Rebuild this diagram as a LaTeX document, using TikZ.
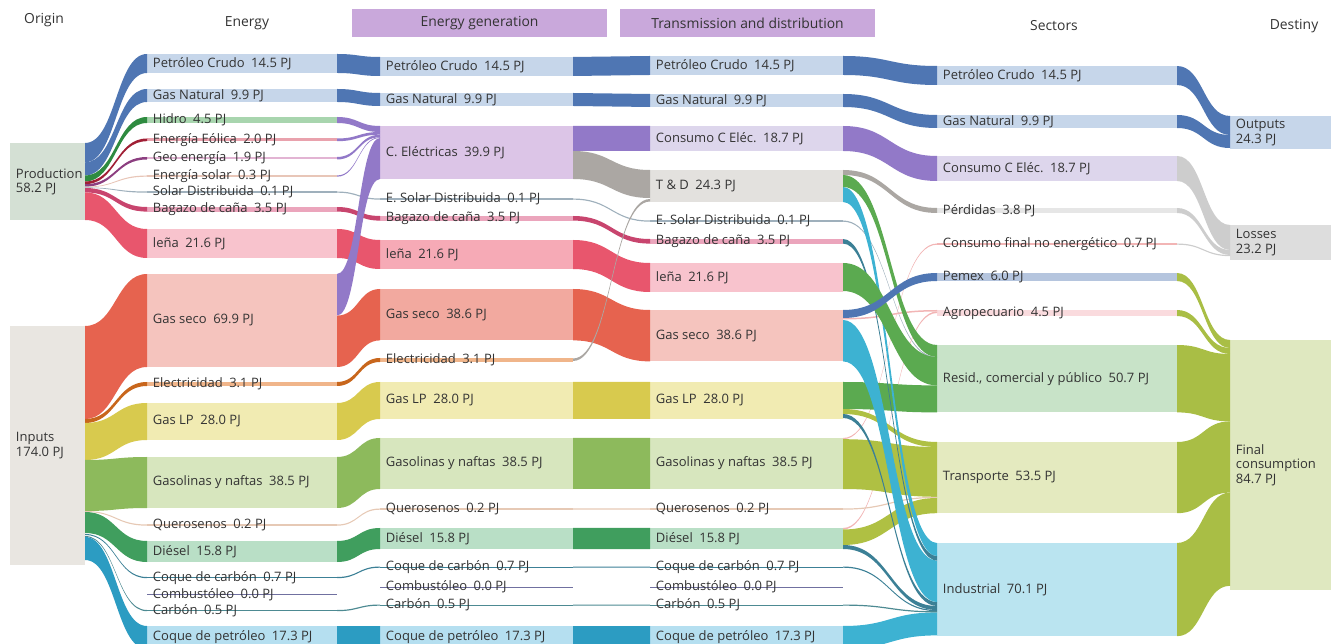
\documentclass[tikz,border=0pt]{standalone}
\usepackage{fontspec}
\setmainfont{Open Sans}
\usepackage{xcolor}

% colours: ...f = flow, ...b = bar
\definecolor{txt}{HTML}{333333}
\definecolor{hdr}{HTML}{C9A8DB}
\definecolor{bluef}{HTML}{4F76B3}
\definecolor{blueb}{HTML}{C6D6EA}
\definecolor{hidf}{HTML}{2E8B40}
\definecolor{hidb}{HTML}{A8D5AE}
\definecolor{eolf}{HTML}{A01F35}
\definecolor{eolb}{HTML}{E9A2AD}
\definecolor{geof}{HTML}{8C3F80}
\definecolor{geob}{HTML}{E2B4D3}
\definecolor{solf}{HTML}{E8C6B8}
\definecolor{sdf}{HTML}{9FB0BC}
\definecolor{bagf}{HTML}{C8456E}
\definecolor{bagb}{HTML}{EBA5BC}
\definecolor{lenf}{HTML}{E8566D}
\definecolor{lenb}{HTML}{F8C3CD}
\definecolor{lenb2}{HTML}{F6AAB6}
\definecolor{gsf}{HTML}{E6634F}
\definecolor{gsb}{HTML}{F5C4BE}
\definecolor{gsb2}{HTML}{F2A99F}
\definecolor{elef}{HTML}{C8661C}
\definecolor{eleb}{HTML}{F0B58A}
\definecolor{lpf}{HTML}{D8CA4E}
\definecolor{lpb}{HTML}{F1EBB2}
\definecolor{gasf}{HTML}{8DBA5C}
\definecolor{gasb}{HTML}{D7E6BE}
\definecolor{quef}{HTML}{E6C9B5}
\definecolor{dief}{HTML}{409E5E}
\definecolor{dieb}{HTML}{B9DFC6}
\definecolor{ccf}{HTML}{3C8096}
\definecolor{cmbf}{HTML}{7070A0}
\definecolor{carf}{HTML}{4D8A92}
\definecolor{cpf}{HTML}{2C9CC2}
\definecolor{cpb}{HTML}{B5DFF0}
\definecolor{cef}{HTML}{9279C8}
\definecolor{ceb}{HTML}{DCC5E7}
\definecolor{tdf}{HTML}{ABA7A3}
\definecolor{tdb}{HTML}{E3E1DE}
\definecolor{cceb}{HTML}{DDD6EC}
\definecolor{perb}{HTML}{E6E6E6}
\definecolor{resf}{HTML}{5BAA50}
\definecolor{resb}{HTML}{C8E3C8}
\definecolor{traf}{HTML}{AFC043}
\definecolor{trab}{HTML}{E4EABF}
\definecolor{indf}{HTML}{3DB2D2}
\definecolor{indb}{HTML}{BAE4F0}
\definecolor{pemb}{HTML}{B5C5DE}
\definecolor{agrb}{HTML}{FADBDE}
\definecolor{agrf}{HTML}{F2B5B5}
\definecolor{finf}{HTML}{A9BE45}
\definecolor{finb}{HTML}{DFE8C0}
\definecolor{losf}{HTML}{CDCDCD}
\definecolor{losb}{HTML}{DDDDDD}
\definecolor{prob}{HTML}{D4E0D4}
\definecolor{inpb}{HTML}{E9E6E1}

\tikzset{
  stock/.style={rectangle, inner sep=0pt, outer sep=0pt, anchor=north west},
  lbl/.style={anchor=west, inner xsep=3.2pt, inner ysep=0pt, align=left,
    text=txt, font=\fontsize{7.4}{8.2}\selectfont},
  head/.style={text=txt, font=\fontsize{7.9}{9}\selectfont},
  headbox/.style={head, fill=hdr, minimum width=255*0.02cm, minimum height=28*0.02cm}
}

% bar: name, x, top, width, height, colour, text
\newcommand\stk[7]{\node[stock, fill=#6, minimum width=#4*0.02cm,
  minimum height=#5*0.02cm, label={[lbl]west:#7}] (#1) at (#2,#3) {};}
% band: from node, top, bottom, to node, top, bottom, colour
\newcommand\flow[7]{\fill[#7] (#1.east |- 0,#2) .. controls +(\arm,0) and +(-\arm,0) .. (#4.west |- 0,#5)
  -- (#4.west |- 0,#6) .. controls +(-\arm,0) and +(\arm,0) .. (#1.east |- 0,#3) -- cycle;}

\begin{document}
\begin{tikzpicture}[x=0.02cm, y=-0.02cm]
  \useasboundingbox (0,0) rectangle (1331,644);
  \clip (0,0) rectangle (1331,644);

  % headers
  \node[head] (hOri) at (44,20) {Origin};
  \node[head] (hEne) at (247,23) {Energy};
  \node[headbox] (hGen) at (479.5,23) {Energy generation};
  \node[headbox] (hTD) at (747.5,23) {Transmission and distribution};
  \node[head] (hSec) at (1054,26) {Sectors};
  \node[head] (hDes) at (1294,26) {Destiny};

  % origin
  \stk{prod}{10}{143}{75}{77}{prob}{Production\\58.2 PJ}
  \stk{inp}{10}{326}{75}{239}{inpb}{Inputs\\174.0 PJ}

  % energy
  \def\cx{147}\def\cw{190}
  \stk{ePC}{\cx}{54}{\cw}{19}{blueb}{Petróleo Crudo\enspace 14.5 PJ}
  \stk{eGN}{\cx}{89}{\cw}{13}{blueb}{Gas Natural\enspace 9.9 PJ}
  \stk{eHid}{\cx}{117}{\cw}{6}{hidb}{Hidro\enspace 4.5 PJ}
  \stk{eEol}{\cx}{138.5}{\cw}{2.7}{eolb}{Energía Eólica\enspace 2.0 PJ}
  \stk{eGeo}{\cx}{157}{\cw}{2.5}{geob}{Geo energía\enspace 1.9 PJ}
  \stk{eSol}{\cx}{175.5}{\cw}{1.2}{solf}{Energía solar\enspace 0.3 PJ}
  \stk{eSD}{\cx}{191.5}{\cw}{1.2}{sdf}{Solar Distribuida\enspace 0.1 PJ}
  \stk{eBag}{\cx}{207}{\cw}{4.6}{bagb}{Bagazo de caña\enspace 3.5 PJ}
  \stk{eLen}{\cx}{229}{\cw}{29}{lenb}{leña\enspace 21.6 PJ}
  \stk{eGS}{\cx}{274}{\cw}{93}{gsb}{Gas seco\enspace 69.9 PJ}
  \stk{eEle}{\cx}{382}{\cw}{4}{eleb}{Electricidad\enspace 3.1 PJ}
  \stk{eGLP}{\cx}{403}{\cw}{37}{lpb}{Gas LP\enspace 28.0 PJ}
  \stk{eGas}{\cx}{457}{\cw}{51}{gasb}{Gasolinas y naftas\enspace 38.5 PJ}
  \stk{eQue}{\cx}{524.5}{\cw}{1.2}{quef}{Querosenos\enspace 0.2 PJ}
  \stk{eDie}{\cx}{541}{\cw}{21}{dieb}{Diésel\enspace 15.8 PJ}
  \stk{eCC}{\cx}{577}{\cw}{1.2}{ccf}{Coque de carbón\enspace 0.7 PJ}
  \stk{eCmb}{\cx}{594}{\cw}{1}{cmbf}{Combustóleo\enspace 0.0 PJ}
  \stk{eCar}{\cx}{610}{\cw}{1.2}{carf}{Carbón\enspace 0.5 PJ}
  \stk{eCP}{\cx}{626}{\cw}{23}{cpb}{Coque de petróleo\enspace 17.3 PJ}

  % energy generation
  \def\cx{380}\def\cw{193}
  \stk{gPC}{\cx}{57}{\cw}{19}{blueb}{Petróleo Crudo\enspace 14.5 PJ}
  \stk{gGN}{\cx}{93}{\cw}{13}{blueb}{Gas Natural\enspace 9.9 PJ}
  \stk{gCE}{\cx}{126}{\cw}{53}{ceb}{C. Eléctricas\enspace 39.9 PJ}
  \stk{gSD}{\cx}{198.5}{\cw}{1.2}{sdf}{E. Solar Distribuida\enspace 0.1 PJ}
  \stk{gBag}{\cx}{216}{\cw}{4.6}{bagb}{Bagazo de caña\enspace 3.5 PJ}
  \stk{gLen}{\cx}{240}{\cw}{29}{lenb2}{leña\enspace 21.6 PJ}
  \stk{gGS}{\cx}{289}{\cw}{51.4}{gsb2}{Gas seco\enspace 38.6 PJ}
  \stk{gEle}{\cx}{358}{\cw}{4}{eleb}{Electricidad\enspace 3.1 PJ}
  \stk{gGLP}{\cx}{382}{\cw}{37}{lpb}{Gas LP\enspace 28.0 PJ}
  \stk{gGas}{\cx}{438}{\cw}{51}{gasb}{Gasolinas y naftas\enspace 38.5 PJ}
  \stk{gQue}{\cx}{508.5}{\cw}{1.2}{quef}{Querosenos\enspace 0.2 PJ}
  \stk{gDie}{\cx}{528}{\cw}{21}{dieb}{Diésel\enspace 15.8 PJ}
  \stk{gCC}{\cx}{566.5}{\cw}{1.2}{ccf}{Coque de carbón\enspace 0.7 PJ}
  \stk{gCmb}{\cx}{586.5}{\cw}{1}{cmbf}{Combustóleo\enspace 0.0 PJ}
  \stk{gCar}{\cx}{604.5}{\cw}{1.2}{carf}{Carbón\enspace 0.5 PJ}
  \stk{gCP}{\cx}{626}{\cw}{23}{cpb}{Coque de petróleo\enspace 17.3 PJ}

  % transmission and distribution
  \def\cx{650}\def\cw{193}
  \stk{tPC}{\cx}{56}{\cw}{19}{blueb}{Petróleo Crudo\enspace 14.5 PJ}
  \stk{tGN}{\cx}{94}{\cw}{13}{blueb}{Gas Natural\enspace 9.9 PJ}
  \stk{tCCE}{\cx}{126}{\cw}{25}{cceb}{Consumo C Eléc.\enspace 18.7 PJ}
  \stk{tTD}{\cx}{170}{\cw}{32}{tdb}{T \& D\enspace 24.3 PJ}
  \stk{tSD}{\cx}{220.5}{\cw}{1.2}{sdf}{E. Solar Distribuida\enspace 0.1 PJ}
  \stk{tBag}{\cx}{239}{\cw}{4.6}{bagb}{Bagazo de caña\enspace 3.5 PJ}
  \stk{tLen}{\cx}{263}{\cw}{29}{lenb}{leña\enspace 21.6 PJ}
  \stk{tGS}{\cx}{310}{\cw}{51.4}{gsb}{Gas seco\enspace 38.6 PJ}
  \stk{tGLP}{\cx}{382}{\cw}{37}{lpb}{Gas LP\enspace 28.0 PJ}
  \stk{tGas}{\cx}{438}{\cw}{51}{gasb}{Gasolinas y naftas\enspace 38.5 PJ}
  \stk{tQue}{\cx}{508.5}{\cw}{1.2}{quef}{Querosenos\enspace 0.2 PJ}
  \stk{tDie}{\cx}{528}{\cw}{21}{dieb}{Diésel\enspace 15.8 PJ}
  \stk{tCC}{\cx}{566.5}{\cw}{1.2}{ccf}{Coque de carbón\enspace 0.7 PJ}
  \stk{tCmb}{\cx}{586.5}{\cw}{1}{cmbf}{Combustóleo\enspace 0.0 PJ}
  \stk{tCar}{\cx}{604.5}{\cw}{1.2}{carf}{Carbón\enspace 0.5 PJ}
  \stk{tCP}{\cx}{626}{\cw}{23}{cpb}{Coque de petróleo\enspace 17.3 PJ}

  % sectors
  \def\cx{937}\def\cw{240}
  \stk{sPC}{\cx}{66}{\cw}{19}{blueb}{Petróleo Crudo\enspace 14.5 PJ}
  \stk{sGN}{\cx}{115}{\cw}{13}{blueb}{Gas Natural\enspace 9.9 PJ}
  \stk{sCCE}{\cx}{156}{\cw}{25}{cceb}{Consumo C Eléc.\enspace 18.7 PJ}
  \stk{sPer}{\cx}{208}{\cw}{5}{perb}{Pérdidas\enspace 3.8 PJ}
  \stk{sCNE}{\cx}{243.5}{\cw}{1.2}{agrf}{Consumo final no energético\enspace 0.7 PJ}
  \stk{sPem}{\cx}{273}{\cw}{8}{pemb}{Pemex\enspace 6.0 PJ}
  \stk{sAgr}{\cx}{310}{\cw}{6}{agrb}{Agropecuario\enspace 4.5 PJ}
  \stk{sRes}{\cx}{345}{\cw}{67.4}{resb}{Resid., comercial y público\enspace 50.7 PJ}
  \stk{sTra}{\cx}{442}{\cw}{71.2}{trab}{Transporte\enspace 53.5 PJ}
  \stk{sInd}{\cx}{543}{\cw}{93.2}{indb}{Industrial\enspace 70.1 PJ}

  % destiny
  \def\cx{1230}\def\cw{101}
  \stk{dOut}{\cx}{116}{\cw}{33}{blueb}{Outputs\\24.3 PJ}
  \stk{dLos}{\cx}{225}{\cw}{35}{losb}{Losses\\23.2 PJ}
  \stk{dFin}{\cx}{340}{\cw}{250}{finb}{Final\\consumption\\84.7 PJ}

  % origin -> energy
  \def\arm{31}
  \flow{prod}{143}{162.3}{ePC}{54}{73}{bluef}
  \flow{prod}{162.3}{175.5}{eGN}{89}{102}{bluef}
  \flow{prod}{175.5}{181.5}{eHid}{117}{123}{hidf}
  \flow{prod}{181.5}{184.2}{eEol}{138.5}{141.2}{eolf}
  \flow{prod}{184.2}{186.7}{eGeo}{157}{159.5}{geof}
  \flow{prod}{186.7}{187.4}{eSol}{175.5}{176.7}{solf}
  \flow{prod}{187.4}{188}{eSD}{191.5}{192.7}{sdf}
  \flow{prod}{188}{192.4}{eBag}{207}{211.6}{bagf}
  \flow{prod}{192.4}{220}{eLen}{229}{258}{lenf}
  \flow{inp}{326}{419}{eGS}{274}{367}{gsf}
  \flow{inp}{419}{423}{eEle}{382}{386}{elef}
  \flow{inp}{423}{460}{eGLP}{403}{440}{lpf}
  \flow{inp}{460}{511}{eGas}{457}{508}{gasf}
  \flow{inp}{511}{512}{eQue}{524.5}{525.7}{quef}
  \flow{inp}{512}{533}{eDie}{541}{562}{dief}
  \flow{inp}{534}{535}{eCC}{577}{578.2}{ccf}
  \flow{inp}{536}{537}{eCar}{610}{611.2}{carf}
  \flow{inp}{537}{560}{eCP}{626}{649}{cpf}

  % energy -> energy generation
  \def\arm{21.5}
  \flow{ePC}{54}{73}{gPC}{57}{76}{bluef}
  \flow{eGN}{89}{102}{gGN}{93}{106}{bluef}
  \flow{eHid}{117}{123}{gCE}{126}{132}{cef}
  \flow{eEol}{138.5}{141.2}{gCE}{132}{134.7}{cef}
  \flow{eGeo}{157}{159.5}{gCE}{134.7}{137.2}{cef}
  \flow{eSol}{175.5}{176.7}{gCE}{137.2}{138}{cef}
  \flow{eSD}{191.5}{192.7}{gSD}{198.5}{199.7}{sdf}
  \flow{eBag}{207}{211.6}{gBag}{216}{220.6}{bagf}
  \flow{eLen}{229}{258}{gLen}{240}{269}{lenf}
  \flow{eGS}{315.6}{367}{gGS}{289}{340.4}{gsf}
  \flow{eEle}{382}{386}{gEle}{358}{362}{elef}
  \flow{eGLP}{403}{440}{gGLP}{382}{419}{lpf}
  \flow{eGas}{457}{508}{gGas}{438}{489}{gasf}
  \flow{eQue}{524.5}{525.7}{gQue}{508.5}{509.7}{quef}
  \flow{eDie}{541}{562}{gDie}{528}{549}{dief}
  \flow{eCC}{577}{578.2}{gCC}{566.5}{567.7}{ccf}
  \flow{eCar}{610}{611.2}{gCar}{604.5}{605.7}{carf}
  \flow{eCP}{626}{649}{gCP}{626}{649}{cpf}
  \flow{eGS}{274}{315.6}{gCE}{138}{179}{cef}

  % energy generation -> transmission and distribution
  \def\arm{38.5}
  \flow{gPC}{57}{76}{tPC}{56}{75}{bluef}
  \flow{gGN}{93}{106}{tGN}{94}{107}{bluef}
  \flow{gCE}{126}{151}{tCCE}{126}{151}{cef}
  \flow{gCE}{151}{179}{tTD}{170}{198}{tdf}
  \flow{gSD}{198.5}{199.7}{tSD}{220.5}{221.7}{sdf}
  \flow{gBag}{216}{220.6}{tBag}{239}{243.6}{bagf}
  \flow{gLen}{240}{269}{tLen}{263}{292}{lenf}
  \flow{gGS}{289}{340.4}{tGS}{310}{361.4}{gsf}
  \flow{gGLP}{382}{419}{tGLP}{382}{419}{lpf}
  \flow{gGas}{438}{489}{tGas}{438}{489}{gasf}
  \flow{gQue}{508.5}{509.7}{tQue}{508.5}{509.7}{quef}
  \flow{gDie}{528}{549}{tDie}{528}{549}{dief}
  \flow{gCC}{566.5}{567.7}{tCC}{566.5}{567.7}{ccf}
  \flow{gCar}{604.5}{605.7}{tCar}{604.5}{605.7}{carf}
  \flow{gCP}{626}{649}{tCP}{626}{649}{cpf}
  \flow{gEle}{358.5}{361}{tTD}{199}{201.5}{tdf}

  % transmission and distribution -> sectors
  \def\arm{47}
  \flow{tPC}{56}{75}{sPC}{66}{85}{bluef}
  \flow{tGN}{94}{107}{sGN}{115}{128}{bluef}
  \flow{tCCE}{126}{151}{sCCE}{156}{181}{cef}
  \flow{tTD}{170}{175}{sPer}{208}{213}{tdf}
  \flow{tSD}{220.5}{221.7}{sRes}{357}{358.2}{sdf}
  \flow{tGas}{438}{439.2}{sCNE}{243.5}{244.7}{agrf}
  \flow{tGS}{318}{319.5}{sAgr}{310}{311.5}{agrf}
  \flow{tDie}{528}{529.5}{sAgr}{311.5}{313}{agrf}
  \flow{tGLP}{382}{409}{sRes}{385.4}{412.4}{resf}
  \flow{tGas}{439.2}{489}{sTra}{447}{496.8}{traf}
  \flow{tQue}{508.5}{509.7}{sTra}{496.8}{498}{quef}
  \flow{tGLP}{409}{414}{sTra}{442}{447}{traf}
  \flow{tDie}{529.5}{545}{sTra}{498}{513.2}{traf}
  \flow{tCP}{626}{649}{sInd}{612.4}{635.4}{indf}
  \flow{tCar}{604.5}{605.7}{sInd}{611.2}{612.4}{carf}
  \flow{tCC}{566.5}{567.7}{sInd}{610}{611.2}{ccf}
  \flow{tDie}{545}{549}{sInd}{606}{610}{ccf}
  \flow{tGLP}{414}{418}{sInd}{602}{606}{ccf}
  \flow{tGS}{320}{361.4}{sInd}{560.6}{602}{indf}
  \flow{tBag}{239}{243.6}{sInd}{556}{560.6}{ccf}
  \flow{tTD}{187}{202}{sInd}{543}{556}{indf}
  \flow{tLen}{263}{291}{sRes}{357}{385.4}{resf}
  \flow{tTD}{175}{187}{sRes}{345}{357}{resf}
  \flow{tGS}{310}{318}{sPem}{273}{281}{bluef}

  % sectors -> destiny
  \def\arm{26.5}
  \flow{sPC}{66}{85}{dOut}{116}{135}{bluef}
  \flow{sGN}{115}{128}{dOut}{135}{148}{bluef}
  \flow{sCCE}{156}{181}{dLos}{225}{250}{losf}
  \flow{sPer}{208}{213}{dLos}{250}{255}{losf}
  \flow{sCNE}{243.5}{244.7}{dLos}{255}{256.2}{losf}
  \flow{sPem}{273}{281}{dFin}{340}{348}{finf}
  \flow{sAgr}{310}{316}{dFin}{348}{354}{finf}
  \flow{sRes}{345}{412.4}{dFin}{354}{421.4}{finf}
  \flow{sTra}{442}{513.2}{dFin}{421.4}{492.6}{finf}
  \flow{sInd}{543}{636.2}{dFin}{492.6}{585.8}{finf}
\end{tikzpicture}
\end{document}
